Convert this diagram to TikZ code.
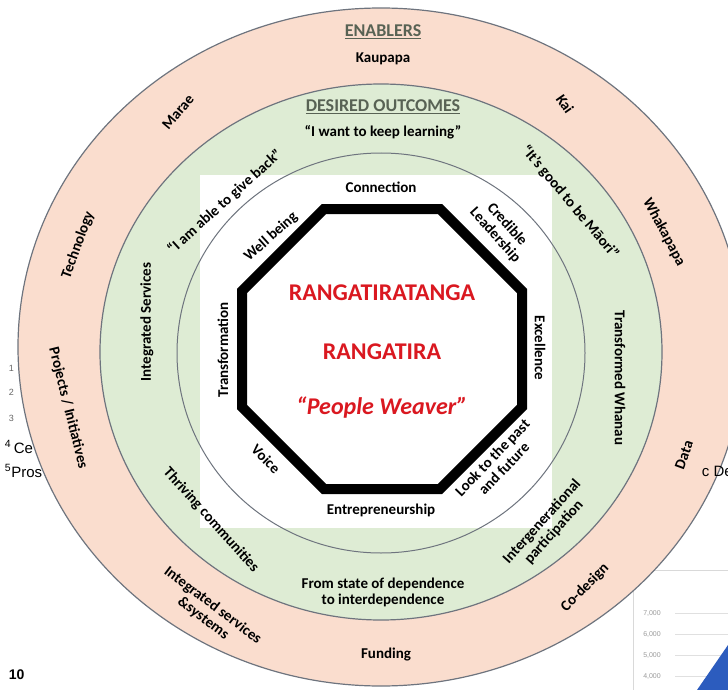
\documentclass[tikz,border=0pt]{standalone}
\usepackage{fontspec}
\setmainfont{Carlito}
\newfontfamily\pagefont{Liberation Sans}
\usepackage{tikz}
\definecolor{enabpink}{RGB}{250,221,206}
\definecolor{outgreen}{RGB}{222,236,212}
\definecolor{ringgrey}{RGB}{110,116,126}
\definecolor{headgrey}{RGB}{88,98,84}
\definecolor{corered}{RGB}{218,24,32}
\definecolor{chartblue}{RGB}{44,92,190}
\tikzset{
ringlbl/.style={inner sep=0.75pt, align=center, font=\bfseries\fontsize{15}{16}\selectfont},
octlbl/.style={inner sep=0.75pt, align=center, font=\bfseries\fontsize{15}{16}\selectfont},
headlbl/.style={inner sep=0.75pt, text=headgrey, font=\bfseries\fontsize{18}{20}\selectfont},
corelbl/.style={inner sep=0.75pt, text=corered, font=\bfseries\fontsize{24}{26}\selectfont},
pagelbl/.style={inner sep=0.75pt, anchor=west, font=\pagefont\fontsize{15}{17}\selectfont},
chartlbl/.style={inner sep=0.75pt, text=black!40, font=\pagefont\fontsize{7}{8}\selectfont}
}

\begin{document}
\begin{tikzpicture}[x=1pt,y=1pt,yscale=-1,xscale=1]
\useasboundingbox (0,0) rectangle (728,690);
\clip (0,0) rectangle (728,690);

%Page behind the figure
\draw (8,368) node (pgone) [pagelbl, text=black!60, font=\pagefont\fontsize{9}{10}\selectfont] {1};
\draw (8,392) node (pgtwo) [pagelbl, text=black!60, font=\pagefont\fontsize{9}{10}\selectfont] {2};
\draw (8,418) node (pgthree) [pagelbl, text=black!60, font=\pagefont\fontsize{9}{10}\selectfont] {3};
\draw (4,447) node (pgce) [pagelbl] {\textsuperscript{4}\,Ce};
\draw (4,471) node (pgpros) [pagelbl] {\textsuperscript{5}Pros};
\draw (8,675) node (pgnum) [pagelbl, font=\pagefont\bfseries\fontsize{14}{16}\selectfont] {10};
%Chart corner
\draw [color=black!15] (633,570) -- (728,570) ;
\draw [color=black!15] (633,570) -- (633,690) ;
\draw [color=black!12] (675,613) -- (728,613) ;
\draw [color=black!12] (675,634) -- (728,634) ;
\draw [color=black!12] (675,655) -- (728,655) ;
\draw [color=black!12] (675,676) -- (728,676) ;
\draw (652,613) node (ysev) [chartlbl] {7,000};
\draw (652,634) node (ysix) [chartlbl] {6,000};
\draw (652,655) node (yfive) [chartlbl] {5,000};
\draw (652,676) node (yfour) [chartlbl] {4,000};
\fill [chartblue] (697,690) -- (728,645) -- (728,690) -- cycle ;

%Shape: Ellipse (enablers)
\draw [color=ringgrey, fill=enabpink, line width=1.2] (381,347) ellipse [x radius=363, y radius=339] ;
%Shape: Ellipse (desired outcomes)
\draw [color=ringgrey, fill=outgreen, line width=1.2] (381,352) ellipse [x radius=281, y radius=268] ;
%Shape: Square
\fill [white] (200,175) rectangle (552,528) ;
%Shape: Ellipse (inner)
\draw [color=ringgrey, line width=1] (381,353) ellipse [x radius=204, y radius=200] ;
%Shape: Octagon
\draw [line width=10, line join=miter] (324,209) -- (440,209) -- (522,291) -- (522,407) -- (440,489) -- (324,489) -- (242,407) -- (242,291) -- cycle ;

% Text Node
\draw (701,471) node (pgde) [pagelbl] {c De};

% Text Node
\draw (383,32) node (enablers) [headlbl] {\underline{ENABLERS}};
% Text Node
\draw (383,59) node (kaupapa) [ringlbl] {Kaupapa};
% Text Node
\draw (178,112) node (marae) [ringlbl, rotate=50] {Marae};
% Text Node
\draw (565,104) node (kai) [ringlbl, rotate=-55] {Kai};
% Text Node
\draw (78,245) node (tech) [ringlbl, rotate=70] {Technology};
% Text Node
\draw (664,232) node (whakapapa) [ringlbl, rotate=-62] {Whakapapa};
% Text Node
\draw (68,408) node (projects) [ringlbl, rotate=-76] {Projects / Initiatives};
% Text Node
\draw (684,455) node (data) [ringlbl, rotate=70] {Data};
% Text Node
\draw (208,612) node (intsys) [ringlbl, rotate=-37] {Integrated services\\\&systems};
% Text Node
\draw (585,588) node (codesign) [ringlbl, rotate=45] {Co-design};
% Text Node
\draw (386,655) node (funding) [ringlbl] {Funding};

% Text Node
\draw (383,107) node (outcomes) [headlbl] {\underline{DESIRED OUTCOMES}};
% Text Node
\draw (383,132) node (learning) [ringlbl] {``I want to keep learning''};
% Text Node
\draw (225,202) node (giveback) [ringlbl, rotate=42] {``I am able to give back''};
% Text Node
\draw (570,202) node (maori) [ringlbl, rotate=-50] {``It's good to be Māori''};
% Text Node
\draw (147,322) node (intserv) [ringlbl, rotate=90] {Integrated Services};
% Text Node
\draw (620,378) node (whanau) [ringlbl, rotate=-90] {Transformed Whanau};
% Text Node
\draw (211,520) node (thriving) [ringlbl, rotate=-48] {Thriving communities};
% Text Node
\draw (548,527) node (intergen) [ringlbl, rotate=48] {Intergenerational\\participation};
% Text Node
\draw (383,592) node (dependence) [ringlbl] {From state of dependence\\to interdependence};

% Text Node
\draw (381,187) node (connection) [octlbl] {Connection};
% Text Node
\draw (501,230) node (credible) [octlbl, rotate=-48] {Credible\\Leadership};
% Text Node
\draw (540,348) node (excellence) [octlbl, rotate=-90] {Excellence};
% Text Node
\draw (498,463) node (pastfuture) [octlbl, rotate=46] {Look to the past\\and future};
% Text Node
\draw (381,510) node (entre) [octlbl] {Entrepreneurship};
% Text Node
\draw (266,459) node (voice) [octlbl, rotate=-45] {Voice};
% Text Node
\draw (223,350) node (transf) [octlbl, rotate=90] {Transformation};
% Text Node
\draw (271,237) node (wellbeing) [octlbl, rotate=42] {Well being};

% Text Node
\draw (382,293) node (rangatiratanga) [corelbl] {RANGATIRATANGA};
% Text Node
\draw (382,352) node (rangatira) [corelbl] {RANGATIRA};
% Text Node
\draw (382,408) node (weaver) [corelbl, font=\bfseries\itshape\fontsize{24}{26}\selectfont] {``People Weaver''};

\end{tikzpicture}
\end{document}
